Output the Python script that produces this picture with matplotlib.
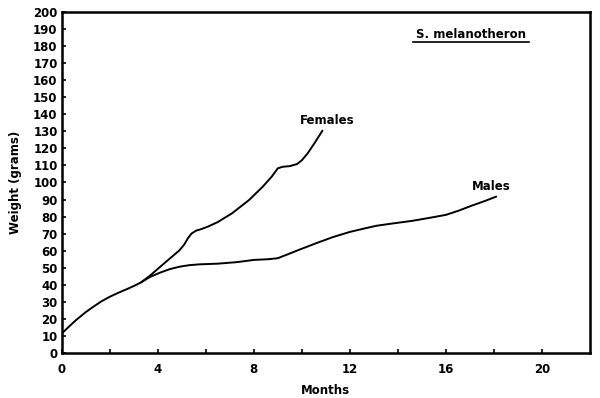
import matplotlib
matplotlib.use("Agg")
import matplotlib.pyplot as plt

# Data
common_months = [0, 0.3, 0.6, 1.0, 1.3, 1.65, 2.0, 2.35, 2.7, 3.0, 3.3]
common_weight = [11.5, 15.5, 19.4, 24, 27, 30.3, 33, 35.3, 37.4, 39.3, 41.4]

female_months = [3.3, 3.66, 4.07, 4.5, 4.9, 5.1, 5.25, 5.4, 5.6, 5.8, 6.1, 6.5, 7.1, 7.8, 8.37, 8.75, 9.0, 9.2, 9.5, 9.8, 10.0, 10.24, 10.55, 10.86]
female_weight = [41.4, 45.2, 50.2, 55.4, 60.2, 63.6, 67.2, 70, 71.8, 72.6, 74.2, 76.8, 82, 89.7, 97.5, 103.5, 108.3, 109.2, 109.6, 110.8, 113, 117, 123.5, 130.4]

male_months = [3.3, 3.66, 4.07, 4.5, 4.9, 5.3, 5.74, 6.5, 7.3, 8.0, 8.6, 9.0, 9.4, 9.9, 10.6, 11.3, 12.0, 12.6, 13.1, 13.8, 14.6, 15.3, 16.0, 16.5, 17.1, 17.6, 18.1]
male_weight = [41.4, 44.5, 47, 49.2, 50.6, 51.5, 52, 52.4, 53.3, 54.6, 55, 55.6, 57.8, 60.6, 64.4, 68, 71, 73, 74.6, 76, 77.5, 79.2, 81, 83.3, 86.5, 89, 91.7]

x_ticks = [0, 2, 4, 6, 8, 10, 12, 14, 16, 18, 20]
x_labels = ["0", "", "4", "", "8", "", "12", "", "16", "", "20"]
y_ticks = list(range(0, 201, 10))
y_labels = [str(v) for v in y_ticks]

fig = plt.figure(figsize=(6, 3.98), dpi=100)
ax = fig.add_axes([0.103, 0.113, 0.880, 0.857])

ax.plot(common_months + female_months[1:], common_weight + female_weight[1:],
        color="black", lw=1.4, solid_joinstyle="round", solid_capstyle="round")
ax.plot(male_months, male_weight, color="black", lw=1.4,
        solid_joinstyle="round", solid_capstyle="round")

ax.set_xlim(0, 22)
ax.set_ylim(0, 200)
ax.set_xticks(x_ticks)
ax.set_xticklabels(x_labels, fontsize=8.5, fontweight="bold")
ax.set_yticks(y_ticks)
ax.set_yticklabels(y_labels, fontsize=8.5, fontweight="bold")
ax.tick_params(direction="in", length=3, width=1.2, pad=3)
ax.tick_params(axis="x", pad=7)
for s in ax.spines.values():
    s.set_linewidth(1.8)

ax.set_xlabel("Months", fontsize=8.5, fontweight="bold", labelpad=6)
ax.set_ylabel("Weight (grams)", fontsize=8.5, fontweight="bold", labelpad=8)

ax.text(11.05, 136.5, "Females", fontsize=8.5, fontweight="bold", ha="center", va="center")
ax.text(17.9, 97.5, "Males", fontsize=8.5, fontweight="bold", ha="center", va="center")
ax.text(17.05, 186.5, "S. melanotheron", fontsize=8.5, fontweight="bold", ha="center", va="center")
ax.plot([14.65, 19.45], [182.5, 182.5], color="black", lw=1.2)

fig.savefig("out.png", dpi=100)
